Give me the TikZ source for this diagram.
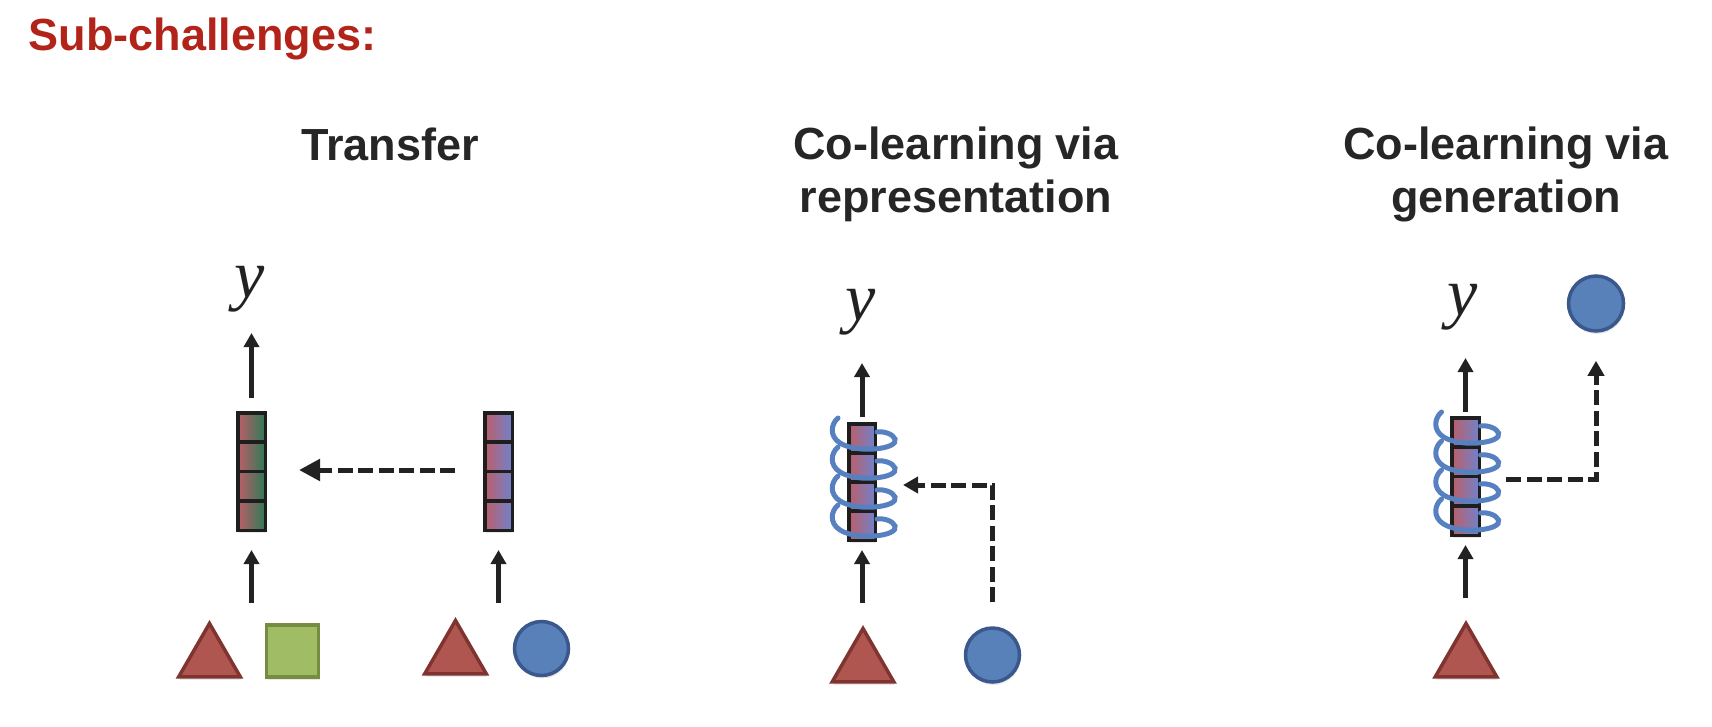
\documentclass[tikz,border=0pt]{standalone}
\usepackage{fontspec}
\setmainfont{Liberation Sans}
\newfontfamily\yfont{Liberation Serif}
\usetikzlibrary{shapes.geometric,arrows.meta,calc,shadows}

\definecolor{titlered}{RGB}{178,36,26}
\definecolor{headc}{RGB}{38,38,38}
\definecolor{arrowc}{RGB}{34,34,34}
\definecolor{barline}{RGB}{30,30,30}
\definecolor{trifill}{RGB}{176,86,80}
\definecolor{triline}{RGB}{128,52,48}
\definecolor{circfill}{RGB}{88,128,185}
\definecolor{circline}{RGB}{58,88,140}
\definecolor{sqfill}{RGB}{160,188,100}
\definecolor{sqline}{RGB}{118,140,64}
\definecolor{coilc}{RGB}{86,128,192}
\definecolor{barred}{RGB}{188,94,104}
\definecolor{barblue}{RGB}{84,118,200}
\definecolor{bargreen}{RGB}{44,122,86}
\definecolor{barlav}{RGB}{112,130,204}
\definecolor{barmid}{RGB}{150,112,154}

\tikzset{
  shad/.style={drop shadow={shadow xshift=1pt,shadow yshift=-3pt,opacity=0.18}},
  vec/.style={draw=barline, line width=3.5pt, inner sep=0pt, shad,
    minimum width=27.5pt, minimum height=117.5pt,
    path picture={\foreach \f in {0.25,0.5,0.75}{\draw[barline,line width=3.5pt]
      ($(path picture bounding box.north west)!\f!(path picture bounding box.south west)$) --
      ($(path picture bounding box.north east)!\f!(path picture bounding box.south east)$);}}},
  vecgreen/.style={vec, left color=barred, middle color=barblue, right color=bargreen},
  vecblue/.style={vec, left color=barred, middle color=barmid, right color=barlav},
  tri/.style={regular polygon, regular polygon sides=3, minimum size=71pt, inner sep=0pt,
    fill=trifill, draw=triline, line width=3.5pt, shad},
  circ/.style={circle, minimum size=54pt, inner sep=0pt, fill=circfill, draw=circline,
    line width=3.5pt, shad},
  sq/.style={rectangle, minimum size=52pt, inner sep=0pt, fill=sqfill, draw=sqline,
    line width=3.5pt, shad},
  arr/.style={draw=arrowc, line width=5pt, -{Triangle[width=15pt,length=14pt]}},
  darr/.style={draw=arrowc, line width=5pt, dash pattern=on 15pt off 5.5pt,
    -{Triangle[width=16pt,length=15pt]}},
  head/.style={anchor=base, inner sep=0pt, text=headc,
    font=\bfseries\fontsize{45}{52}\selectfont},
  ylab/.style={anchor=base, inner sep=0pt, text=arrowc,
    font=\yfont\itshape\fontsize{68}{72}\selectfont},
  coil/.style={draw=coilc, line width=5pt, line cap=round},
}

\newcommand{\drawcoil}[1]{%
  \begin{scope}[shift={(#1.north)}]
    \foreach \k in {0,...,3}{
      \begin{scope}[yshift={-\k*29pt}]
        \draw[coil] (-24,-4) .. controls (-31,2) and (-33,14) .. (-22,21)
          .. controls (-14,26) and (0,28) .. (12,27)
          .. controls (26,26) and (35,22) .. (33,17)
          .. controls (31,12) and (22,9) .. (15,10);
      \end{scope}
    }
  \end{scope}}

\begin{document}
\begin{tikzpicture}[x=1pt,y=-1pt]
\useasboundingbox (0,0) rectangle (1712,726);

% title
\node[anchor=base west, inner sep=0pt, text=titlered,
  font=\bfseries\fontsize{45}{52}\selectfont] (title) at (28.5,50) {Sub-challenges:};

% headings
\node[head] (h1) at (390,160) {Transfer};
\node[head] (h2a) at (956,159) {Co-learning via};
\node[head] (h2b) at (956,212) {representation};
\node[head] (h3a) at (1506,159) {Co-learning via};
\node[head] (h3b) at (1506,212) {generation};

% ---------- panel 1: transfer
\node[ylab] (y1) at (250,297) {y};
\node[vecgreen] (bar1) at (251.5,471.5) {};
\node[vecblue] (bar2) at (498.5,471.5) {};
\node[tri] (t1) at (209.5,659) {};
\node[sq] (s1) at (292.5,651) {};
\node[tri] (t2) at (455.5,656) {};
\node[circ] (c1) at (541.5,648.5) {};

\draw[arr] ([yshift=13pt]bar1.north) -- ([yshift=78pt]bar1.north);
\draw[arr] ([yshift=-71pt]bar1.south) -- ([yshift=-18pt]bar1.south);
\draw[arr] ([yshift=-71pt]bar2.south) -- ([yshift=-18pt]bar2.south);
\draw[darr, -{Triangle[width=21pt,length=21pt]}]
  ([xshift=-28pt,yshift=1.5pt]bar2.west) -- ([xshift=32pt,yshift=1.5pt]bar1.east);

% ---------- panel 2: co-learning via representation
\node[ylab] (y2) at (861,320) {y};
\node[vecblue, minimum width=26.5pt, minimum height=116.5pt] (bar3) at (862,482) {};
\node[tri] (t3) at (863,664) {};
\node[circ] (c2) at (992.5,655) {};

\draw[arr] ([yshift=5pt]bar3.north) -- ([yshift=59pt]bar3.north);
\draw[arr] ([yshift=-61pt]bar3.south) -- ([yshift=-8pt]bar3.south);
\drawcoil{bar3}
\draw[darr] ([yshift=24pt]c2.north) |- ([xshift=26pt,yshift=-3pt]bar3.east);

% ---------- panel 3: co-learning via generation
\node[ylab] (y3) at (1463,315) {y};
\node[circ, minimum size=55pt] (c3) at (1596,303.5) {};
\node[vecblue] (bar4) at (1465.5,476.5) {};
\node[tri] (t4) at (1466,659) {};

\draw[arr] ([yshift=4pt]bar4.north) -- ([yshift=58pt]bar4.north);
\draw[arr] ([yshift=-61pt]bar4.south) -- ([yshift=-8pt]bar4.south);
\drawcoil{bar4}
\draw[darr] ([xshift=25pt,yshift=-2.5pt]bar4.east) -| ([yshift=-28pt]c3.south);
\end{tikzpicture}
\end{document}
